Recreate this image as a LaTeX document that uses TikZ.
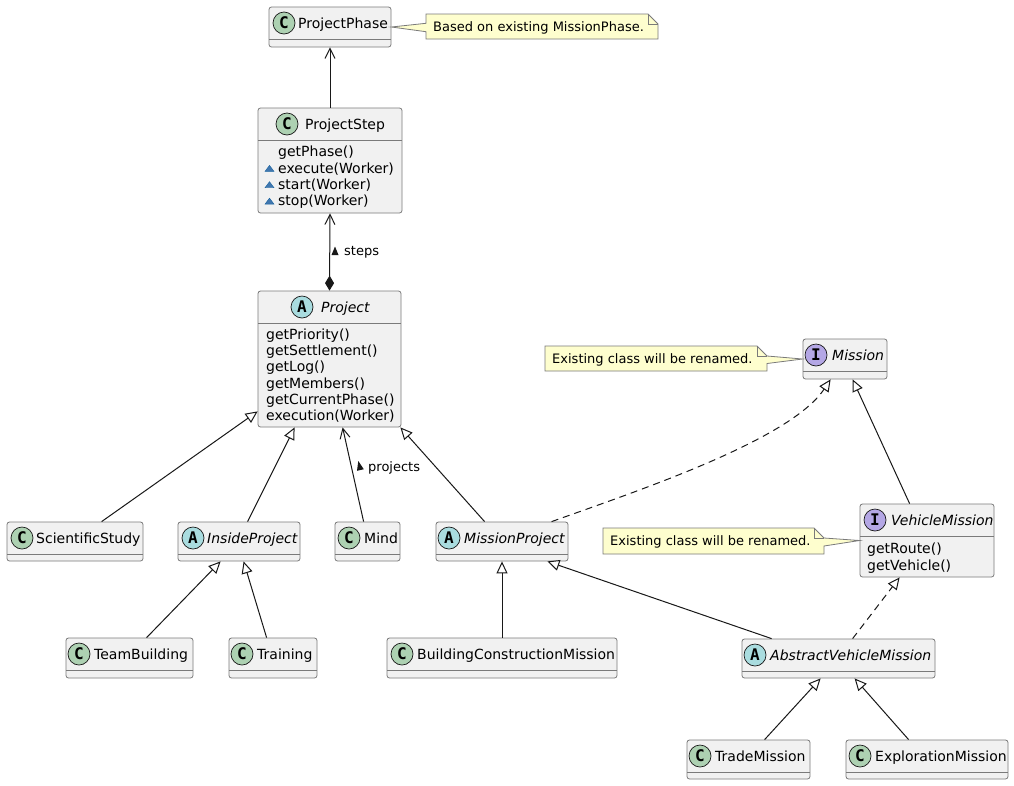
\documentclass[tikz,border=0pt]{standalone}
\usepackage{fontspec}
\setmainfont{DejaVu Sans}
\newfontfamily\iconfont{DejaVu Sans Mono}
\usetikzlibrary{arrows.meta,calc}
\definecolor{boxfill}{HTML}{F1F1F1}
\definecolor{ink}{HTML}{181818}
\definecolor{edge}{HTML}{7A7A7A}
\definecolor{cC}{HTML}{ADD1B2}
\definecolor{cA}{HTML}{A9DCDF}
\definecolor{cI}{HTML}{B4A7E5}
\definecolor{notefill}{HTML}{FEFECE}
\definecolor{visfill}{HTML}{4177AF}
\definecolor{visdraw}{HTML}{1963A0}
\tikzset{
  clsbox/.style={shape=rectangle, draw=edge, line width=0.8pt, fill=boxfill, rounded corners=2.5pt, inner sep=0pt},
  sepline/.style={draw=edge, line width=0.8pt},
  iconbase/.style={circle, draw=ink, line width=0.7pt, minimum size=22pt, inner sep=0pt, font=\iconfont\bfseries\fontsize{16}{16}\selectfont},
  iconC/.style={iconbase, fill=cC},
  iconA/.style={iconbase, fill=cA},
  iconI/.style={iconbase, fill=cI},
  title/.style={inner sep=0pt, anchor=base west, font=\fontsize{14}{16}\selectfont},
  meth/.style={inner sep=0pt, anchor=base west, font=\fontsize{14}{16}\selectfont},
  notetext/.style={inner sep=0pt, anchor=base west, font=\fontsize{13}{15}\selectfont},
  noteshape/.style={draw=edge, line width=0.8pt, fill=notefill},
  noteline/.style={draw=edge, line width=0.8pt},
  conn/.style={draw=ink, line width=1pt},
  inherit/.style={conn, -{Triangle[length=12pt, width=11pt, fill=white]}},
  realize/.style={inherit, dash pattern=on 7pt off 5pt},
  assoc/.style={conn, -{Straight Barb[length=10pt, width=10pt]}},
  compose/.style={conn, {Diamond[length=15pt, width=9pt]}-{Straight Barb[length=10pt, width=10pt]}},
  vis/.style={fill=visfill, draw=visdraw, line width=0.4pt},
}
% #1 name, #2 x1, #3 y1, #4 x2, #5 y2, #6 circle x, #7 text x, #8 kind letter, #9 title
\newcommand{\umlcls}[9]{%
  \node[clsbox, minimum width={#4-#2}, minimum height={#5-#3}] (#1) at ({(#2+#4)/2},{(#3+#5)/2}) {};
  \draw[sepline] (#2,#3+32) -- (#4,#3+32);
  \node[icon#8] (#1-icon) at (#6,#3+16) {#8};
  \node[title] (#1-title) at (#7,#3+21) {#9};
}
\newcommand{\vismark}[1]{%
  \filldraw[vis] (265,#1-1.6) -- (274,#1-1.6) -- (269.5,#1-7.6) -- cycle;
}
\begin{document}
\begin{tikzpicture}[x=1pt,y=-1pt]
\useasboundingbox (0,0) rectangle (1014,785);
\fill[white] (0,0) rectangle (1014,785);

% classes
\umlcls{phase}{269}{7}{391}{47}{284}{298}{C}{ProjectPhase}
\umlcls{step}{258}{108}{402}{213}{287}{305}{C}{ProjectStep}
\umlcls{project}{258}{291}{401}{427}{302}{321}{A}{\itshape Project}
\umlcls{mission}{803}{339}{887}{379}{816}{832}{I}{\itshape Mission}
\umlcls{vm}{860}{504}{994}{577}{875}{891}{I}{\itshape VehicleMission}
\umlcls{sci}{7}{522}{143}{561}{22}{36}{C}{ScientificStudy}
\umlcls{inside}{178}{522}{300}{561}{193}{207}{A}{\itshape InsideProject}
\umlcls{mind}{335}{522}{400}{561}{349}{364}{C}{Mind}
\umlcls{mp}{436}{522}{568}{561}{449}{464}{A}{\itshape MissionProject}
\umlcls{team}{66}{638}{193}{678}{79}{94}{C}{TeamBuilding}
\umlcls{training}{229}{638}{317}{678}{242}{257}{C}{Training}
\umlcls{bcm}{387}{638}{617}{678}{402}{417}{C}{BuildingConstructionMission}
\umlcls{avm}{742}{639}{935}{678}{755}{770}{A}{\itshape AbstractVehicleMission}
\umlcls{trade}{687}{740}{810}{779}{700}{715}{C}{TradeMission}
\umlcls{expl}{846}{740}{1008}{779}{860}{875}{C}{ExplorationMission}

% members
\node[meth] (step-m1) at (278,156.5) {getPhase()};
\node[meth] (step-m2) at (278,173) {execute(Worker)};
\node[meth] (step-m3) at (278,189.3) {start(Worker)};
\node[meth] (step-m4) at (278,205.7) {stop(Worker)};
\vismark{173}
\vismark{189.3}
\vismark{205.7}

\node[meth] (project-m1) at (266,339) {getPriority()};
\node[meth] (project-m2) at (266,355.3) {getSettlement()};
\node[meth] (project-m3) at (266,371.6) {getLog()};
\node[meth] (project-m4) at (266,388) {getMembers()};
\node[meth] (project-m5) at (266,404.2) {getCurrentPhase()};
\node[meth] (project-m6) at (266,420.5) {execution(Worker)};

\node[meth] (vm-m1) at (867,553.3) {getRoute()};
\node[meth] (vm-m2) at (867,570) {getVehicle()};

% notes
\path[noteshape] (426,14) -- (648,14) -- (658,24) -- (658,39) -- (426,39) -- (426,31.7) -- (phase.east) -- (426,23.3) -- cycle;
\draw[noteline] (648,14) -- (648,24) -- (658,24);
\node[notetext] (note1) at (433,31) {Based on existing MissionPhase.};

\path[noteshape] (545,346) -- (757,346) -- (767,356) -- (mission.west) -- (767,363.5) -- (767,371) -- (545,371) -- cycle;
\draw[noteline] (757,346) -- (757,356) -- (767,356);
\node[notetext] (note2) at (552,363) {Existing class will be renamed.};

\path[noteshape] (603,528) -- (814,528) -- (824,538) -- (vm.west) -- (824,546) -- (824,554) -- (603,554) -- cycle;
\draw[noteline] (814,528) -- (814,538) -- (824,538);
\node[notetext] (note3) at (610,545.5) {Existing class will be renamed.};

% connectors
\draw[assoc] (step.north) -- (phase.south);
\draw[compose] (project.north) -- (step.south);
\draw[inherit] ($(sci.north west)+(95,0)$) -- ($(project.south west)+(0,-16)$);
\draw[inherit] ($(inside.north west)+(70,0)$) -- ($(project.south west)+(37,0)$);
\draw[assoc] ($(mind.north west)+(29,0)$) -- ($(project.south west)+(85,0)$);
\draw[inherit] ($(mp.north west)+(49,0)$) -- ($(project.south east)+(-1,0)$);
\draw[realize] ($(mp.north west)+(116,0)$) .. controls (640,490) and (790,440) .. ($(mission.south west)+(28,0)$);
\draw[inherit] ($(vm.north west)+(50,0)$) -- ($(mission.south west)+(50,0)$);
\draw[inherit] (bcm.north) -- (mp.south);
\draw[inherit] ($(avm.north west)+(30,0)$) -- ($(mp.south east)+(-21,0)$);
\draw[realize] ($(avm.north west)+(111,0)$) -- ($(vm.south west)+(40,0)$);
\draw[inherit] ($(trade.north west)+(78,0)$) -- ($(avm.south west)+(79,0)$);
\draw[inherit] ($(expl.north west)+(63,0)$) -- ($(avm.south west)+(113,0)$);
\draw[inherit] ($(team.north west)+(81,0)$) -- ($(inside.south west)+(43,0)$);
\draw[inherit] ($(training.north west)+(38,0)$) -- ($(inside.south west)+(66,0)$);

% labels
\fill[ink] (335,246.5) -- (338.5,255) -- (331.5,255) -- cycle;
\node[notetext] (lbl-steps) at (344,255.5) {steps};
\fill[ink] (358.3,461) -- (363.8,469.2) -- (357,470.8) -- cycle;
\node[notetext] (lbl-projects) at (368,471) {projects};
\end{tikzpicture}
\end{document}
